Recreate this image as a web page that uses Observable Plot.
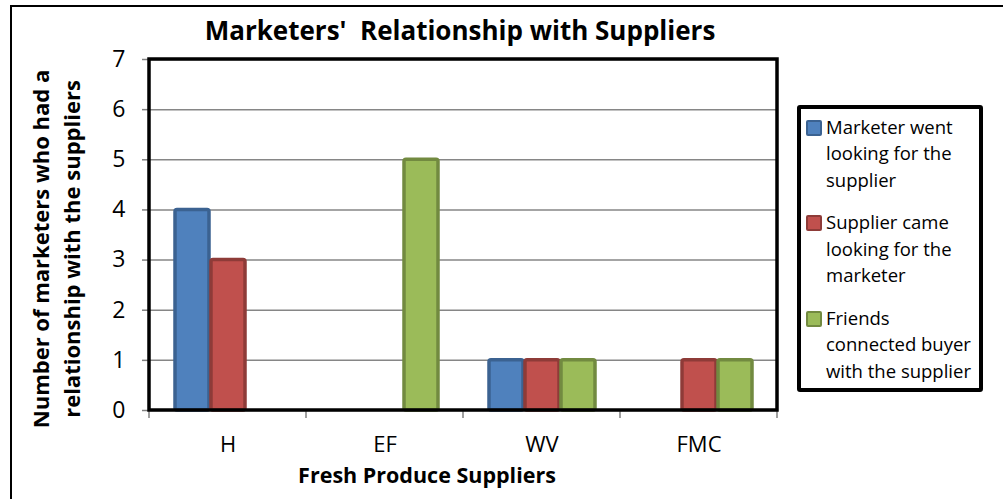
<!DOCTYPE html>
<html><head><meta charset="utf-8">
<script src="https://cdn.jsdelivr.net/npm/d3@7"></script>
<script src="https://cdn.jsdelivr.net/npm/@observablehq/plot@0.6"></script>
<style>
body{margin:0;background:#fff;}
#wrap{position:relative;width:1003px;height:499px;overflow:hidden;font-family:"Open Sans",Lato,sans-serif;background:#fff;}
#legend{position:absolute;left:797px;top:105px;width:186px;height:287px;box-sizing:border-box;border:4px solid #000;border-radius:3px;background:#fff;}
.entry{position:absolute;left:25px;font-size:18.5px;line-height:26.5px;color:#000;white-space:nowrap;}
.sw{position:absolute;left:-20px;top:5.75px;width:12px;height:12px;border:2px solid;border-radius:2px;}
#border{position:absolute;left:10px;top:5px;width:1100px;height:492px;border-left:2px solid #000;border-top:2px solid #000;border-bottom:1px solid #666;}
</style></head><body><div id="wrap"><div id="border"></div></div>
<script>
// ---- data ----
const suppliers = ["H", "EF", "WV", "FMC"];
const seriesKeys = ["went", "came", "friends"];
const seriesNames = [
  "Marketer went looking for the supplier",
  "Supplier came looking for the marketer",
  "Friends connected buyer with the supplier"
];
const wentLooking = [4, 0, 1, 0];
const supplierCame = [3, 0, 1, 1];
const friendsConnected = [0, 5, 1, 1];
const yTicks = [0, 1, 2, 3, 4, 5, 6, 7];
const legendLines = [
  ["Marketer went", "looking for the", "supplier"],
  ["Supplier came", "looking for the", "marketer"],
  ["Friends", "connected buyer", "with the supplier"]
];
const titleText = "Marketers'  Relationship with Suppliers";
const xTitle = "Fresh Produce Suppliers";
const yTitle = ["Number of marketers who had a", "relationship with the suppliers"];

// ---- styles ----
const FONT = "'Open Sans', Lato, sans-serif";
const fills = ["#4F81BD", "#C0504D", "#9BBB59"];
const strokes = ["#3B6291", "#8E3B38", "#728A40"];

const valuesBySeries = [wentLooking, supplierCame, friendsConnected];
const rows = [];
seriesKeys.forEach((s, i) => suppliers.forEach((c, j) => rows.push({supplier: c, series: s, value: valuesBySeries[i][j]})));

const barMarks = seriesKeys.map((s, i) => Plot.barY(rows.filter(d => d.series === s && d.value > 0), {
  fx: "supplier", x: "series", y: "value",
  fill: fills[i], stroke: strokes[i], strokeWidth: 3.5, rx: 2, insetLeft: 1, insetRight: 1
}));

const chart = Plot.plot({
  width: 1003, height: 499,
  marginLeft: 148, marginRight: 226, marginTop: 59, marginBottom: 89,
  style: {fontFamily: FONT, fontSize: "22px", color: "#000", background: "transparent"},
  fx: {domain: suppliers, paddingInner: 0, paddingOuter: 0, label: null},
  x: {domain: seriesKeys, paddingInner: 0, paddingOuter: 0.68, axis: null},
  y: {domain: [0, 7], label: null},
  marks: [
    Plot.gridY(yTicks, {stroke: "#868686", strokeOpacity: 1, strokeWidth: 1.5}),
    ...barMarks,
    Plot.axisY(yTicks, {tickSize: 7, tickPadding: 17, stroke: "#808080", strokeWidth: 1.5, label: null, fontSize: 23, tickFormat: d3.format("d")}),
    Plot.axisFx({anchor: "bottom", tickSize: 0, tickPadding: 26, label: null, fontSize: 22})
  ]
});

const wrap = document.getElementById("wrap");
chart.style.position = "absolute";
chart.style.left = "0px";
chart.style.top = "0px";
wrap.appendChild(chart);

const svg = d3.select(chart);
const fx = chart.scale("fx");
const y = chart.scale("y");
const x0 = fx.apply(suppliers[0]);
const x1 = fx.apply(suppliers[suppliers.length - 1]) + fx.bandwidth;
const yTop = y.apply(7), yBot = y.apply(0);

// x ticks at category boundaries
const bounds = suppliers.map(s => fx.apply(s)).concat([x1]);
svg.append("g").selectAll("line").data(bounds).join("line")
  .attr("x1", d => d).attr("x2", d => d).attr("y1", yBot).attr("y2", yBot + 8)
  .attr("stroke", "#808080").attr("stroke-width", 1.5);

// plot frame
svg.append("rect").attr("x", x0).attr("y", yTop).attr("width", x1 - x0).attr("height", yBot - yTop)
  .attr("fill", "none").attr("stroke", "#000").attr("stroke-width", 3.5);

// chart title
svg.append("text").attr("x", 460).attr("y", 40).attr("text-anchor", "middle")
  .attr("font-weight", "bold").attr("font-size", 26).attr("font-family", FONT)
  .attr("xml:space", "preserve").style("white-space", "pre").text(titleText);

// axis titles
svg.append("text").attr("x", 427).attr("y", 482.5).attr("text-anchor", "middle")
  .attr("font-weight", "bold").attr("font-size", 21.5).attr("font-family", FONT).text(xTitle);
const yt = svg.append("g").attr("transform", "translate(0,249)");
yTitle.forEach((t, i) => {
  yt.append("text").attr("transform", `translate(${49 + i * 31},0) rotate(-90)`).attr("text-anchor", "middle")
    .attr("font-weight", "bold").attr("font-size", 22).attr("font-family", FONT).text(t);
});

// legend
const legend = document.createElement("div");
legend.id = "legend";
legendLines.forEach((lines, i) => {
  const e = document.createElement("div");
  e.className = "entry";
  e.style.top = (4.75 + i * 95.5) + "px";
  e.title = seriesNames[i];
  const sw = document.createElement("div");
  sw.className = "sw";
  sw.style.background = fills[i];
  sw.style.borderColor = strokes[i];
  e.appendChild(sw);
  lines.forEach(l => { const d = document.createElement("div"); d.textContent = l; e.appendChild(d); });
  legend.appendChild(e);
});
wrap.appendChild(legend);
</script>
</body></html>
